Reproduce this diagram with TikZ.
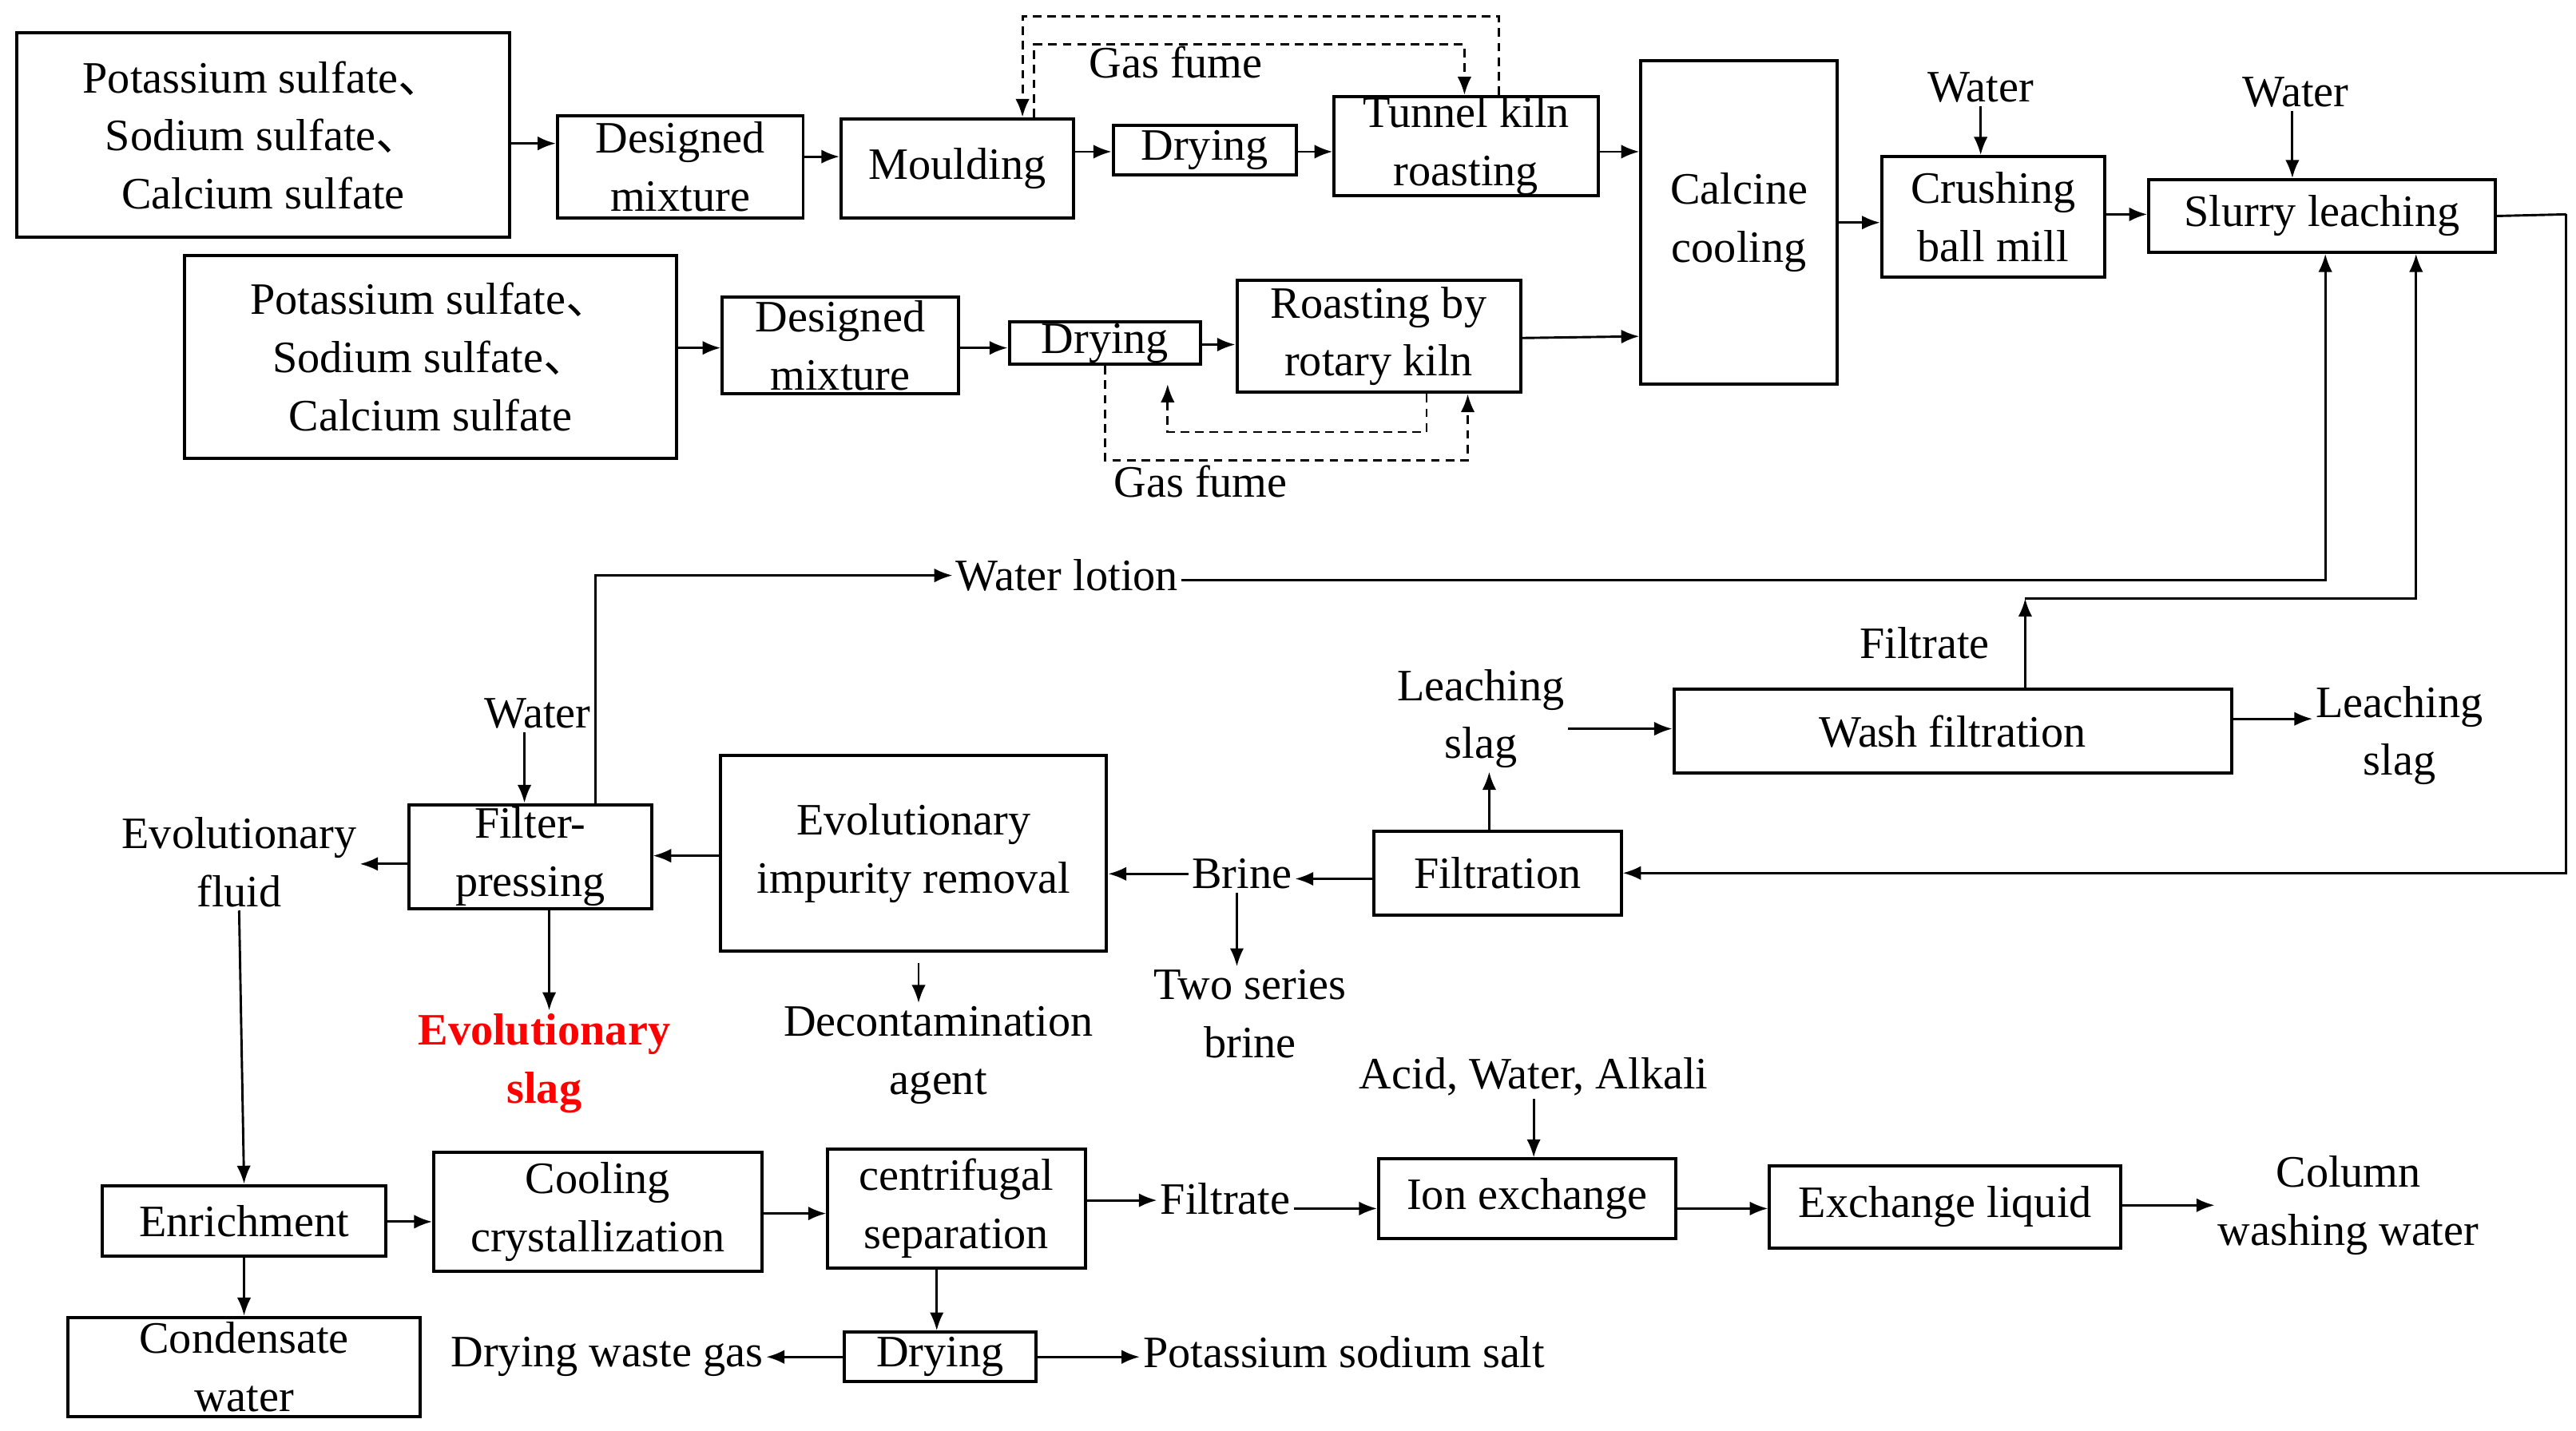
\documentclass[tikz,border=0pt]{standalone}
\usepackage{fontspec}
\setmainfont{Liberation Serif}
\newfontfamily\cjk{Noto Sans CJK SC}
\usetikzlibrary{arrows.meta}
\newcommand{\dun}{{\cjk 、}}
\begin{document}
\begin{tikzpicture}[x=0.02cm,y=-0.02cm,
  font=\fontsize{15.5}{20}\selectfont,
  >={Latex[length=2.2mm,width=1.7mm]},
  flow/.style={->,line width=0.8pt},
  gas/.style={->,line width=0.8pt,densely dashed},
  lbl/.style={align=center,inner sep=1pt}]
\useasboundingbox (0,0) rectangle (1562,867.5);
% boxes: name, x1, y1, x2, y2, text
\def\bx#1#2#3#4#5#6{\node[draw,line width=1.1pt,align=center,inner sep=0pt,
  minimum width={(#4-#2)*0.02cm},minimum height={(#5-#3)*0.02cm}]
  (#1) at ({(#2+#4)/2},{(#3+#5)/2}) {#6};}
\bx{salta}{10}{20}{309}{144}{Potassium sulfate\dun\\Sodium sulfate\dun\\Calcium sulfate}
\bx{mixa}{338}{70}{487}{132}{Designed\\mixture}
\bx{mould}{510}{72}{651}{132}{Moulding}
\bx{drya}{675}{76}{786}{106}{Drying}
\bx{tunnel}{809}{60}{969}{117}{Tunnel kiln\\roasting}
\bx{calcine}{995}{37}{1114}{233}{Calcine\\cooling}
\bx{crush}{1141}{95}{1276}{168}{Crushing\\ball mill}
\bx{slurry}{1303}{109}{1513}{153}{Slurry leaching}
\bx{saltb}{112}{155}{410}{278}{Potassium sulfate\dun\\Sodium sulfate\dun\\Calcium sulfate}
\bx{mixb}{438}{180}{581}{239}{Designed\\mixture}
\bx{dryb}{612}{195}{728}{221}{Drying}
\bx{rotary}{750}{170}{922}{238}{Roasting by\\rotary kiln}
\bx{wash}{1015}{418}{1353}{469}{Wash filtration}
\bx{filt}{833}{504}{983}{555}{Filtration}
\bx{evol}{437}{458}{671}{577}{Evolutionary\\impurity removal}
\bx{press}{248}{488}{395}{551}{Filter-\\pressing}
\bx{enrich}{62}{719}{234}{762}{Enrichment}
\bx{conden}{41}{799}{255}{859}{Condensate\\water}
\bx{cool}{263}{699}{462}{771}{Cooling\\crystallization}
\bx{centri}{502}{697}{658}{769}{centrifugal\\separation}
\bx{dryc}{512}{808}{628}{838}{Drying}
\bx{ion}{836}{703}{1016}{751}{Ion exchange}
\bx{exch}{1073}{707}{1286}{757}{Exchange liquid}
% free labels
\node[lbl] (fumea) at (713,38) {Gas fume};
\node[lbl] (watera) at (1201,53) {Water};
\node[lbl] (waterb) at (1392,56) {Water};
\node[lbl] (fumeb) at (728,292) {Gas fume};
\node[lbl] (lotion) at (647,349) {Water lotion};
\node[lbl] (filtra) at (1167,390) {Filtrate};
\node[lbl] (slaga) at (898,436) {Leaching\\slag};
\node[lbl] (slagb) at (1455,446) {Leaching\\slag};
\node[lbl] (waterc) at (326,433) {Water};
\node[lbl] (fluid) at (145,523) {Evolutionary\\fluid};
\node[lbl] (brine) at (753,530) {Brine};
\node[lbl] (brineb) at (758,615) {Two series\\brine};
\node[lbl,text=red,font=\fontsize{15.5}{20}\selectfont\bfseries] (eslag) at (330,645) {Evolutionary\\slag};
\node[lbl] (agent) at (569,640) {Decontamination\\agent};
\node[lbl] (acid) at (930,653) {Acid, Water, Alkali};
\node[lbl] (filtrb) at (743,727) {Filtrate};
\node[lbl] (column) at (1424,731) {Column\\washing water};
\node[lbl] (wgas) at (368,823) {Drying waste gas};
\node[lbl] (ksalt) at (815,820) {Potassium sodium salt};
\coordinate (corner) at (1556,130);
% top line
\draw[flow] (salta.east |- 0,87) -- (mixa.west |- 0,87);
\draw[flow] (mixa.east |- 0,95) -- (mould.west |- 0,95);
\draw[flow] (mould.east |- 0,92) -- (drya.west |- 0,92);
\draw[flow] (drya.east |- 0,92) -- (tunnel.west |- 0,92);
\draw[flow] (tunnel.east |- 0,92) -- (calcine.west |- 0,92);
\draw[flow] (calcine.east |- 0,135) -- (crush.west |- 0,135);
\draw[flow] (crush.east |- 0,130) -- (slurry.west |- 0,130);
\draw[flow] (watera) -- (crush.north -| watera);
\draw[flow] (waterb.south -| 1390,0) -- (slurry.north -| 1390,0);
\draw[gas] (tunnel.north -| 909,0) |- (620,10) -- (mould.north -| 620,0);
\draw[gas] (mould.north -| 627,0) |- (888,27) -- (tunnel.north -| 888,0);
% second line
\draw[flow] (saltb.east |- 0,211) -- (mixb.west |- 0,211);
\draw[flow] (mixb.east |- 0,211) -- (dryb.west |- 0,211);
\draw[flow] (dryb.east |- 0,209) -- (rotary.west |- 0,209);
\draw[flow] (rotary.east |- 0,205) -- (calcine.west |- 0,204);
\draw[gas] (dryb.south -| 670,0) |- (890,279) -- (rotary.south -| 890,0);
\draw[gas] (rotary.south -| 865,0) |- (708,262) -- (708,233);
% leaching loop
\draw[line width=0.8pt] (slurry.east) -- (corner);
\draw[flow] (corner) |- (filt.east);
\draw[flow] (filt.north -| 903,0) -- (slaga.south -| 903,0);
\draw[flow] (slaga.east |- 0,442) -- (wash.west |- 0,442);
\draw[flow] (wash.east |- 0,436) -- (slagb.west |- 0,436);
\draw[flow] (wash.north -| 1228,0) -- (1228,363);
\draw[flow] (1228,363) -| (slurry.south -| 1465,0);
\draw[flow] (press.north -| 361,0) |- (lotion.west);
\draw[flow] (lotion.east |- 0,352) -| (slurry.south -| 1410,0);
\draw[flow] (filt.west |- 0,533) -- (brine.east |- 0,533);
\draw[flow] (brine.west) -- (evol.east |- brine);
\draw[flow] (brine.south -| 750,0) -- (brineb.north -| 750,0);
\draw[flow] (evol.west |- 0,519) -- (press.east |- 0,519);
\draw[flow] (press.west |- 0,524) -- (fluid.east |- 0,524);
\draw[flow] (waterc.south -| 318,0) -- (press.north -| 318,0);
\draw[flow] (press.south -| 333,0) -- (eslag.north -| 333,0);
\draw[flow] (evol.south -| 557,0) ++(0,6) -- (agent.north -| 557,0);
% bottom line
\draw[flow] (fluid.south) -- (enrich.north -| 148,0);
\draw[flow] (enrich.south -| 148,0) -- (conden.north -| 148,0);
\draw[flow] (enrich.east |- 0,741) -- (cool.west |- 0,741);
\draw[flow] (cool.east |- 0,736) -- (centri.west |- 0,736);
\draw[flow] (centri.east |- 0,728) -- (filtrb.west |- 0,728);
\draw[flow] (filtrb.east |- 0,733) -- (ion.west |- 0,733);
\draw[flow] (acid.south -| 930,0) -- (ion.north -| 930,0);
\draw[flow] (centri.south -| 568,0) -- (dryc.north -| 568,0);
\draw[flow] (dryc.west |- 0,823) -- (wgas.east |- 0,823);
\draw[flow] (dryc.east |- 0,823) -- (ksalt.west |- 0,823);
\draw[flow] (ion.east |- 0,733) -- (exch.west |- 0,733);
\draw[flow] (exch.east |- 0,731) -- (column.west |- 0,731);
\end{tikzpicture}
\end{document}
